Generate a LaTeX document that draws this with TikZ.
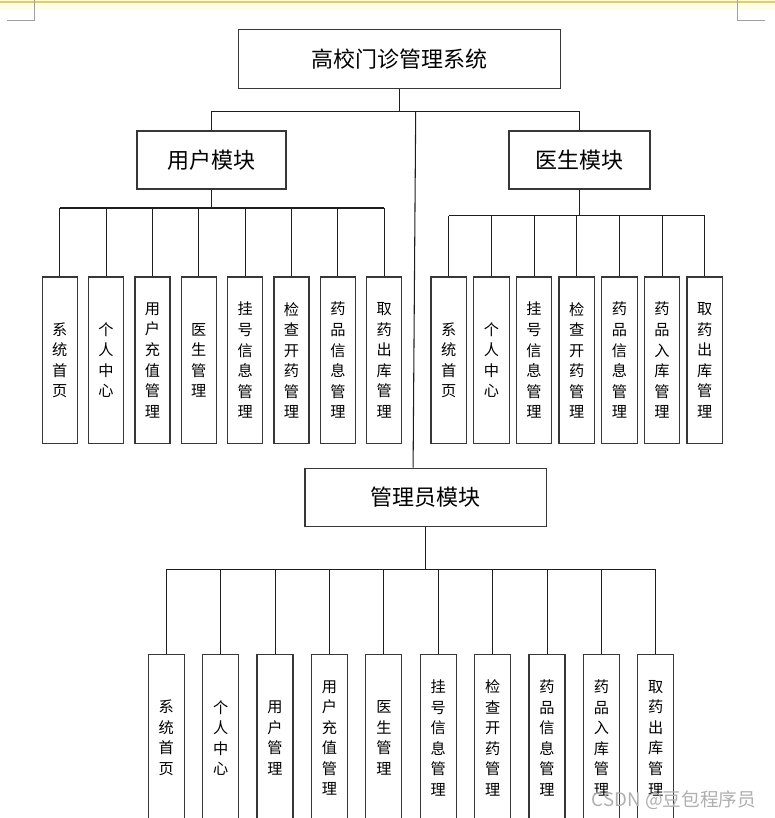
\documentclass[tikz,border=0pt]{standalone}
\usepackage{fontspec}
\newfontfamily\cjk{Noto Sans CJK SC}
\definecolor{boxc}{RGB}{55,55,55}
\definecolor{linec}{RGB}{30,30,30}
\definecolor{markc}{RGB}{160,160,160}
\definecolor{topline}{RGB}{228,206,100}
\definecolor{topfade}{RGB}{255,252,232}
\definecolor{wmark}{RGB}{175,175,175}
\tikzset{
  box/.style={draw=boxc, line width=0.9pt, fill=white, inner sep=0pt, align=center},
  conn/.style={draw=linec, line width=0.8pt},
  titlebox/.style={box, font=\cjk\fontsize{16.5pt}{18pt}\selectfont},
  leafbox/.style={box, minimum height=124.9pt, font=\cjk\fontsize{11.4pt}{15.4pt}\selectfont},
  cornermark/.style={draw=markc, line width=0.75pt}
}
\begin{document}
\begin{tikzpicture}[x=0.75pt,y=-0.75pt]
\useasboundingbox (0,0) rectangle (775,818);
% page header decoration
\fill[topfade] (0,0) rectangle (775,10);
\draw[topline, line width=1.5pt] (0,1.5) -- (775,1.5);
\draw[cornermark] (7,20) -- (34.3,20) -- (34.3,0);
\draw[cornermark] (737,0) -- (737,20) -- (765,20);

% main nodes
\node[titlebox, minimum width=241.5pt, minimum height=44.25pt] (sys) at (399.5,59) {高校门诊管理系统};
\node[titlebox, minimum width=111.75pt, minimum height=43.5pt] (user) at (211.5,160) {用户模块};
\node[titlebox, minimum width=105.75pt, minimum height=43.5pt] (doc) at (579.5,160) {医生模块};
\node[titlebox, minimum width=181.1pt, minimum height=43.5pt] (admin) at (425.75,497.2) {管理员模块};

\coordinate (mbus) at (0,111.7);
\coordinate (ubus) at (0,208);
\coordinate (dbus) at (0,215.7);
\coordinate (abus) at (0,569.3);
\coordinate (ltop) at (415.7,111.7);

% top level connectors
\draw[conn] (sys.south) -- (sys.south |- mbus);
\draw[conn] (user.north) -- (user.north |- mbus) -- (doc.north |- mbus) -- (doc.north);
\draw[conn] (ltop) -- ([xshift=-9.5pt]admin.north);

% user leaves
\foreach \i/\t in {0/{系\\统\\首\\页},1/{个\\人\\中\\心},2/{用\\户\\充\\值\\管\\理},3/{医\\生\\管\\理},4/{挂\\号\\信\\息\\管\\理},5/{检\\查\\开\\药\\管\\理},6/{药\\品\\信\\息\\管\\理},7/{取\\药\\出\\库\\管\\理}}{
  \node[leafbox, minimum width=26.25pt] (u\i) at ({59.7+46.37*\i},360.25) {\t};
  \draw[conn] (u\i.north) -- (u\i.north |- ubus);
}
\draw[conn] (user.south) -- (user.south |- ubus);
\draw[conn] (u0.north |- ubus) -- (u7.north |- ubus);

% doctor leaves
\foreach \i/\t in {0/{系\\统\\首\\页},1/{个\\人\\中\\心},2/{挂\\号\\信\\息\\管\\理},3/{检\\查\\开\\药\\管\\理},4/{药\\品\\信\\息\\管\\理},5/{药\\品\\入\\库\\管\\理},6/{取\\药\\出\\库\\管\\理}}{
  \node[leafbox, minimum width=26.6pt] (d\i) at ({448.7+42.67*\i},360.25) {\t};
  \draw[conn] (d\i.north) -- (d\i.north |- dbus);
}
\draw[conn] (doc.south) -- (doc.south |- dbus);
\draw[conn] (d0.north |- dbus) -- (d6.north |- dbus);

% admin leaves
\foreach \i/\t in {0/{系\\统\\首\\页},1/{个\\人\\中\\心},2/{用\\户\\管\\理},3/{用\\户\\充\\值\\管\\理},4/{医\\生\\管\\理},5/{挂\\号\\信\\息\\管\\理},6/{检\\查\\开\\药\\管\\理},7/{药\\品\\信\\息\\管\\理},8/{药\\品\\入\\库\\管\\理},9/{取\\药\\出\\库\\管\\理}}{
  \node[leafbox, minimum width=27pt] (a\i) at ({166.3+54.39*\i},738) {\t};
  \draw[conn] (a\i.north) -- (a\i.north |- abus);
}
\draw[conn] (admin.south) -- (admin.south |- abus);
\draw[conn] (a0.north |- abus) -- (a9.north |- abus);

% watermark
\node[text=wmark, font=\cjk\fontsize{14pt}{16pt}\selectfont, inner sep=0pt] (wm) at (674,800) {CSDN @豆包程序员};
\end{tikzpicture}
\end{document}
